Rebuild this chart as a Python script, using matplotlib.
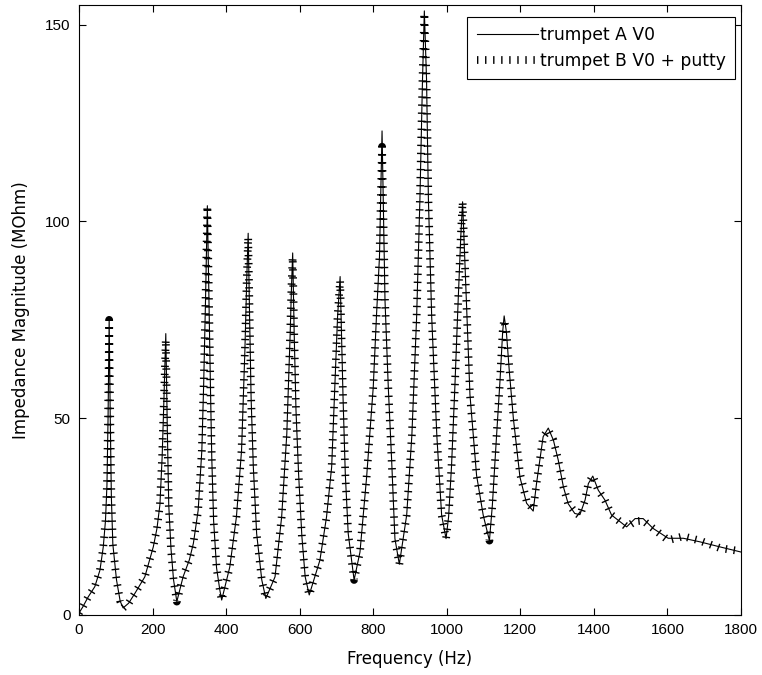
import matplotlib
matplotlib.use('Agg')
import matplotlib.pyplot as plt

plt.rcParams['font.family'] = ['DejaVu Sans']
plt.rcParams['lines.scale_dashes'] = False

# frequency points (Hz), denser around the resonances
freq = [0, 10, 25, 43, 57, 66, 72, 76, 79, 82, 85, 88, 92, 102, 112, 120,
        135, 152, 179, 202, 212, 220, 226, 231, 236, 240, 244, 250, 257, 266,
        283, 300, 311, 324, 334, 339, 344, 349, 353, 357, 361, 366, 374, 383, 388,
        410, 428, 442, 451, 456, 460, 464, 468, 474, 483, 497, 508,
        533, 551, 565, 574, 578, 581, 585, 590, 597, 606, 615, 626,
        655, 673, 687, 696, 703, 710, 714, 718, 724, 732, 748,
        764, 782, 800, 809, 817, 824, 832, 841, 850, 859, 871,
        891, 905, 918, 927, 934, 939, 945, 950, 959, 973, 986, 998,
        1005, 1013, 1022, 1031, 1038, 1043, 1050, 1063, 1081, 1099, 1116,
        1124, 1133, 1145, 1152, 1156, 1162, 1170, 1181, 1199, 1217, 1235,
        1244, 1253, 1262, 1276, 1290, 1303, 1317, 1330, 1348, 1362,
        1376, 1385, 1397, 1412, 1430, 1448, 1471, 1489, 1512, 1534, 1561,
        1602, 1643, 1688, 1743, 1800]

# trumpet A V0 (MOhm)
imp_a = [0.5, 2, 4.6, 7.2, 11.4, 17.3, 24, 33, 50, 75, 50, 30, 18, 8.9, 3.5, 1.8,
         3, 5.5, 9.7, 17.3, 22, 28, 40, 55, 71.5, 48, 28, 17, 9, 3.4,
         9.7, 14, 18.2, 26.6, 41.8, 58.7, 80, 104, 82, 60, 40, 24, 12, 6.3, 3.8,
         12.2, 24.9, 41.8, 67, 85, 97, 75, 55, 37.6, 20.7, 8.9, 4.2,
         9.7, 24.9, 46, 71, 84, 92, 72, 52, 36, 20, 9.7, 5.1,
         13.9, 24.9, 37.6, 58.7, 75.7, 86, 70, 55, 36, 20.7, 8.9,
         16, 35, 57.8, 76.3, 91, 123, 80, 57.8, 39.5, 19.4, 12.9,
         25.4, 45.5, 75.7, 105.8, 136, 153.5, 136, 105.8, 75.7, 45.5, 25.4, 19.4,
         25, 38, 58, 80, 96, 105, 88, 56, 35.5, 25.4, 18.9,
         28, 42, 60, 72, 76, 72, 62, 50, 35, 28.4, 26.4,
         33.4, 39.4, 45.3, 47.5, 44.4, 39.4, 32.6, 28.3, 25.8, 25.5,
         29.2, 33.4, 35.3, 31.7, 29.2, 25.4, 23.7, 22.4, 24.5, 24.5, 22,
         19.5, 19.5, 18.6, 17.3, 16]

# trumpet B V0 + putty (MOhm)
imp_b = [0.5, 2, 4.6, 7.2, 11.4, 17.3, 24, 33, 50, 75, 50, 30, 18, 8.9, 3.5, 1.8,
         3, 5.5, 9.7, 17.3, 22, 28, 40, 55, 70, 48, 28, 17, 9, 3.4,
         9.7, 14, 18.2, 26.6, 41.8, 58.7, 80, 104, 82, 60, 40, 24, 12, 6.3, 3.8,
         12.2, 24.9, 41.8, 67, 85, 96, 75, 55, 37.6, 20.7, 8.9, 4.2,
         9.7, 24.9, 46, 71, 84, 91, 72, 52, 36, 20, 9.7, 5.1,
         13.9, 24.9, 37.6, 58.7, 75.7, 85, 70, 55, 36, 20.7, 8.9,
         16, 35, 57.8, 76.3, 91, 119, 80, 57.8, 39.5, 19.4, 12.9,
         25.4, 45.5, 75.7, 105.8, 136, 153, 136, 105.8, 75.7, 45.5, 25.4, 19.4,
         25, 38, 58, 80, 96, 105, 88, 56, 35.5, 25.4, 18.9,
         28, 42, 60, 72, 75, 72, 63, 51, 36, 29, 26.8,
         33.4, 39.4, 45.3, 47, 44.4, 39.4, 32.6, 28.3, 26.2, 25.2,
         29.2, 33.4, 35.3, 31.7, 29.2, 25.4, 23.7, 22.4, 23.8, 24, 22,
         19, 20, 18.9, 17, 16.2]

fig = plt.figure(figsize=(7.62, 6.75), dpi=100)
ax = fig.add_axes([79 / 762, 60 / 675, 662 / 762, 610 / 675])

ax.plot(freq, imp_a, color='k', lw=0.8, label='trumpet A V0')
ax.plot(freq, imp_b, color='k', lw=5.6, linestyle=(0, (1.0, 4.8)),
        dash_capstyle='butt', label='trumpet B V0 + putty')

ax.set_xlim(0, 1800)
ax.set_ylim(0, 155)
ax.set_xticks(range(0, 1801, 200))
ax.set_yticks([0, 50, 100, 150])
ax.tick_params(direction='in', top=True, right=True, length=5, width=0.8,
               pad=6, colors='k')
for lab in ax.get_xticklabels() + ax.get_yticklabels():
    lab.set_fontfamily('Liberation Sans')
    lab.set_fontsize(11)
for s in ax.spines.values():
    s.set_linewidth(0.8)

ax.set_xlabel('Frequency (Hz)', fontsize=12, labelpad=9)
ax.set_ylabel('Impedance Magnitude (MOhm)', fontsize=12, labelpad=11)

leg = ax.legend(loc='upper right', bbox_to_anchor=(0.991, 0.981), fontsize=12.3,
                handlelength=3.6, handletextpad=0.1, borderpad=0.55,
                labelspacing=0.45, fancybox=False, framealpha=1, borderaxespad=0)
leg.get_frame().set_edgecolor('k')
leg.get_frame().set_linewidth(0.8)

fig.savefig('out.png', dpi=100)
